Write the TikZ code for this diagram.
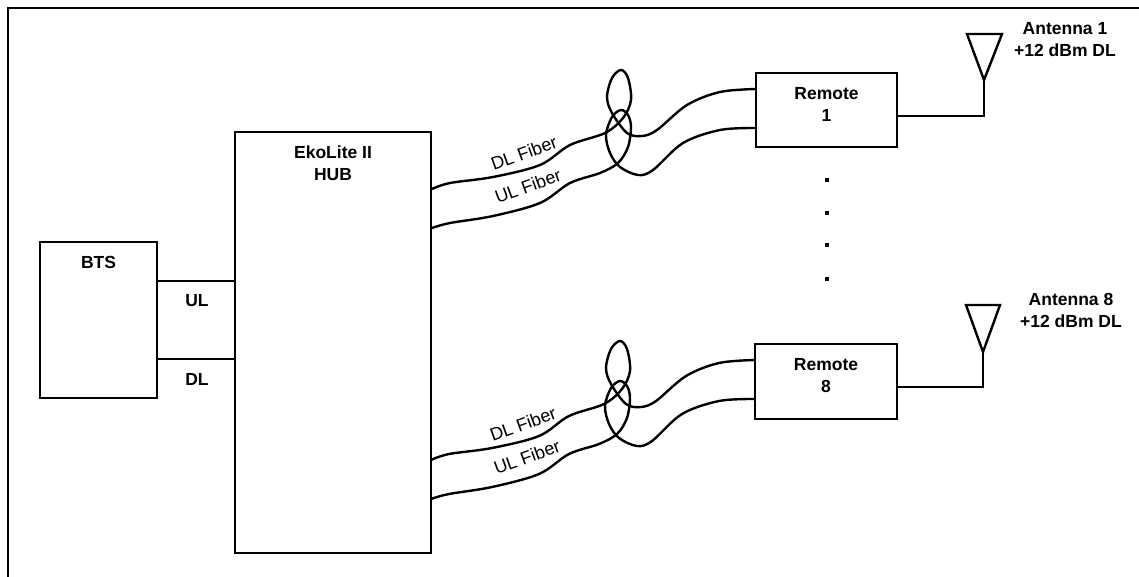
\documentclass[tikz,border=0pt]{standalone}
\usepackage{fontspec}
\setmainfont{Liberation Sans}
\usetikzlibrary{positioning}
\tikzset{
box/.style={draw=black,line width=2.6pt,fill=white,inner sep=0pt},
lbl/.style={font=\fontsize{17.5}{22}\selectfont\bfseries,align=center,inner sep=0pt},
fibertxt/.style={font=\fontsize{18}{20}\selectfont,rotate=20,inner sep=0pt},
wire/.style={line width=2.4pt,line join=miter},
fiber/.style={line width=2.4pt},
dotnode/.style={fill=black,minimum size=4.5pt,inner sep=0pt}
}
\begin{document}
\begin{tikzpicture}[x=1pt,y=-1pt]
\useasboundingbox (0,0) rectangle (1139,577);
\coordinate (framea) at (8,577);
\coordinate (frameb) at (8,8);
\coordinate (framec) at (1139,8);
\draw[line width=2.8pt] (framea) -- (frameb) -- (framec);
\node[box,minimum width=117pt,minimum height=156pt] (bts) at (98.5,320) {};
\node[box,minimum width=196pt,minimum height=421pt] (hub) at (333,342.5) {};
\node[box,minimum width=141pt,minimum height=74pt] (rone) at (826.5,110) {};
\node[box,minimum width=142pt,minimum height=75pt] (reight) at (826,381.5) {};
\node[lbl,below=15pt of bts.north] (btstxt) {BTS};
\node[lbl,below=15pt of hub.north] (hubtxt) {EkoLite II\\HUB};
\node[lbl,below=15.5pt of rone.north] (ronetxt) {Remote\\1};
\node[lbl,below=15.5pt of reight.north] (reighttxt) {Remote\\8};
\node[lbl] (ultxt) at (197,301) {UL};
\node[lbl] (dltxt) at (197,379) {DL};
\draw[wire] (bts.east |- 0,281) -- (hub.west |- 0,281);
\draw[wire] (bts.east |- 0,359) -- (hub.west |- 0,359);
% antennas
\coordinate (aone) at (984,80);
\coordinate (aeight) at (983,352);
\draw[wire] (rone.east |- 0,116) -| (aone);
\draw[wire] (reight.east |- 0,387) -| (aeight);
\draw[wire] (aone) -- ++(-17,-46) -- ++(35,0) -- cycle;
\draw[wire] (aeight) -- ++(-17,-47) -- ++(34,0) -- cycle;
\node[lbl] (aonetxt) at (1065,39.5) {Antenna 1\\+12 dBm DL};
\node[lbl] (aeighttxt) at (1071,310.5) {Antenna 8\\+12 dBm DL};
\foreach \yy in {180,213,245,279}
  \node[dotnode] (dot\yy) at (827,\yy) {};
% fibers, same shape for both remotes
\foreach \xs/\ys/\rr in {0/0/rone,-1/271/reight}{
\begin{scope}[xshift=\xs pt,yshift=-\ys pt]
\coordinate (dla) at (432,189);
\coordinate (ula) at (432,228);
\coordinate (dlb) at (756,89);
\coordinate (ulb) at (756,128);
\draw[fiber] plot[smooth,tension=0.55] coordinates {(dla) (450,183) (493,177) (540,165) (570,145) (605,133) (623,118) (631,100) (628,78) (621,70) (612,78) (607,97) (612,113) (627,133) (642,136) (657,130) (687,105) (720,92) (dlb)};
\draw[fiber] plot[smooth,tension=0.55] coordinates {(ula) (450,223) (493,216) (540,203) (570,183) (600,173) (618,163) (628,147) (631,127) (628,115) (621,110) (612,117) (606,135) (610,153) (620,167) (638,175) (653,170) (683,143) (720,130) (ulb)};
\node[fibertxt] (dltxt\rr) at (524,153) {DL Fiber};
\node[fibertxt] (ultxt\rr) at (528,186) {UL Fiber};
\end{scope}}
\end{tikzpicture}
\end{document}
